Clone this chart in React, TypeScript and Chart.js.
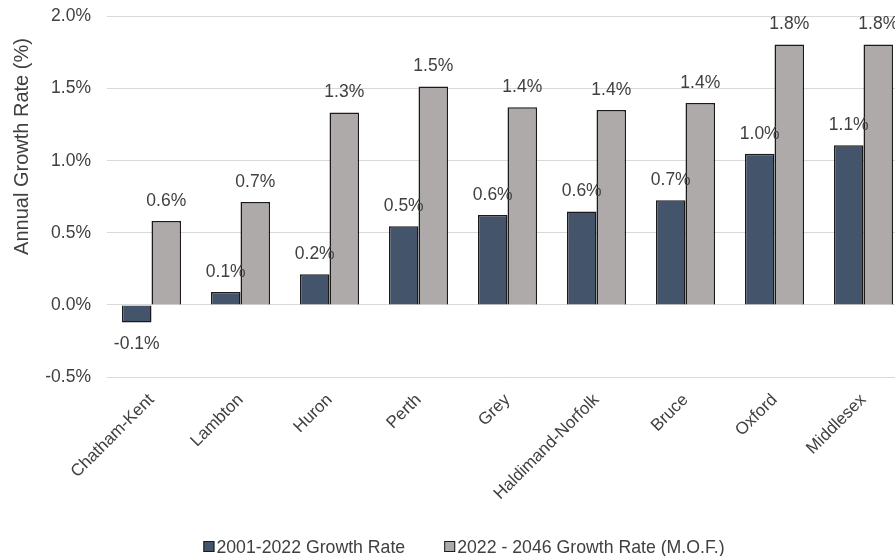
import React, { useEffect, useRef } from "react";
import { Chart, registerables } from "chart.js";

Chart.register(...registerables);

const categories = [
  "Chatham-Kent",
  "Lambton",
  "Huron",
  "Perth",
  "Grey",
  "Haldimand-Norfolk",
  "Bruce",
  "Oxford",
  "Middlesex",
];
const growth2001to2022 = [-0.122, 0.09, 0.212, 0.546, 0.624, 0.647, 0.725, 1.048, 1.107];
const growth2022to2046 = [0.582, 0.713, 1.335, 1.515, 1.37, 1.352, 1.4, 1.805, 1.805];
const seriesLabels = ["2001-2022 Growth Rate", "2022 - 2046 Growth Rate (M.O.F.)"];
const seriesColors = ["#44546A", "#AEAAAA"];
const yAxisTitle = "Annual Growth Rate (%)";
const yMin = -0.5;
const yMax = 2.0;
const yStep = 0.5;

const FONT = '"Liberation Sans", Arial, sans-serif';
const TEXT_COLOR = "#404040";

const dataLabelPlugin = {
  id: "dataLabels",
  afterDatasetsDraw(chart: any) {
    const ctx = chart.ctx;
    ctx.save();
    ctx.font = `17.5px ${FONT}`;
    ctx.fillStyle = TEXT_COLOR;
    ctx.textAlign = "center";
    ctx.textBaseline = "middle";
    chart.data.datasets.forEach((ds: any, di: number) => {
      const meta = chart.getDatasetMeta(di);
      meta.data.forEach((el: any, i: number) => {
        const v = ds.data[i] as number;
        const txt = v.toFixed(1) + "%";
        const y = v >= 0 ? el.y - 20 : el.y + 22;
        ctx.fillText(txt, el.x, y);
      });
    });
    ctx.restore();
  },
};

const axisTitlePlugin = {
  id: "axisTitle",
  afterDraw(chart: any) {
    const ctx = chart.ctx;
    ctx.save();
    ctx.font = `20px ${FONT}`;
    ctx.fillStyle = TEXT_COLOR;
    ctx.textAlign = "center";
    ctx.textBaseline = "middle";
    ctx.translate(22, chart.chartArea.top + 130);
    ctx.rotate(-Math.PI / 2);
    ctx.fillText(yAxisTitle, 0, 0);
    ctx.restore();
  },
};

const legendPlugin = {
  id: "customLegend",
  afterDraw(chart: any) {
    const ctx = chart.ctx;
    ctx.save();
    ctx.font = `17.7px ${FONT}`;
    const box = 11;
    const gapBox = 2;
    const gapItems = 39;
    const items = chart.data.datasets.map((ds: any) => ({
      label: ds.label as string,
      color: ds.backgroundColor as string,
    }));
    const widths = items.map((it: any) => box + gapBox + ctx.measureText(it.label).width);
    const total = widths.reduce((a: number, b: number) => a + b, 0) + gapItems * (items.length - 1);
    let x = chart.width / 2 + 10 - total / 2;
    const baseline = chart.height - 3;
    items.forEach((it: any, i: number) => {
      ctx.fillStyle = it.color;
      ctx.fillRect(x, baseline - 12, box, box);
      ctx.strokeStyle = "#1a1a1a";
      ctx.lineWidth = 1;
      ctx.strokeRect(x + 0.5, baseline - 11.5, box - 1, box - 1);
      ctx.fillStyle = TEXT_COLOR;
      ctx.textAlign = "left";
      ctx.textBaseline = "alphabetic";
      ctx.fillText(it.label, x + box + gapBox, baseline);
      x += widths[i] + gapItems;
    });
    ctx.restore();
  },
};

export default function App() {
  const canvasRef = useRef<HTMLCanvasElement | null>(null);

  useEffect(() => {
    if (!canvasRef.current) return;
    const chart = new Chart(canvasRef.current, {
      type: "bar",
      data: {
        labels: categories,
        datasets: [
          {
            label: seriesLabels[0],
            data: growth2001to2022,
            backgroundColor: seriesColors[0],
            borderColor: "#1a1a1a",
            borderWidth: 1.5,
          },
          {
            label: seriesLabels[1],
            data: growth2022to2046,
            backgroundColor: seriesColors[1],
            borderColor: "#1a1a1a",
            borderWidth: 1.5,
          },
        ],
      },
      options: {
        responsive: false,
        animation: false,
        devicePixelRatio: 1,
        layout: { padding: { top: 5, left: 0, right: 0, bottom: 34 } },
        datasets: {
          bar: { categoryPercentage: 0.664, barPercentage: 1 },
        },
        plugins: {
          legend: { display: false },
          tooltip: { enabled: false },
        },
        scales: {
          x: {
            grid: { display: false, drawTicks: false },
            border: { display: false },
            ticks: {
              maxRotation: 45,
              minRotation: 45,
              autoSkip: false,
              padding: 13,
              color: TEXT_COLOR,
              font: { family: FONT, size: 17 },
            },
            afterFit(scale: any) {
              scale.height = 145;
            },
          },
          y: {
            min: yMin,
            max: yMax,
            grid: { color: "#D9D9D9", lineWidth: 1, drawTicks: false },
            border: { display: false },
            ticks: {
              stepSize: yStep,
              padding: 16,
              color: TEXT_COLOR,
              font: { family: FONT, size: 17.5 },
              callback: (v: any) => Number(v).toFixed(1) + "%",
            },
            title: { display: false },
            afterFit(scale: any) {
              scale.width = 107;
            },
          },
        },
      },
      plugins: [dataLabelPlugin, axisTitlePlugin, legendPlugin],
    });
    return () => chart.destroy();
  }, []);

  return (
    <div
      style={{
        position: "fixed",
        left: 0,
        top: 0,
        width: 895,
        height: 556,
        overflow: "hidden",
        background: "#fff",
      }}
    >
      <canvas
        ref={canvasRef}
        width={908}
        height={566}
        style={{ display: "block", marginTop: -10 }}
      />
    </div>
  );
}
